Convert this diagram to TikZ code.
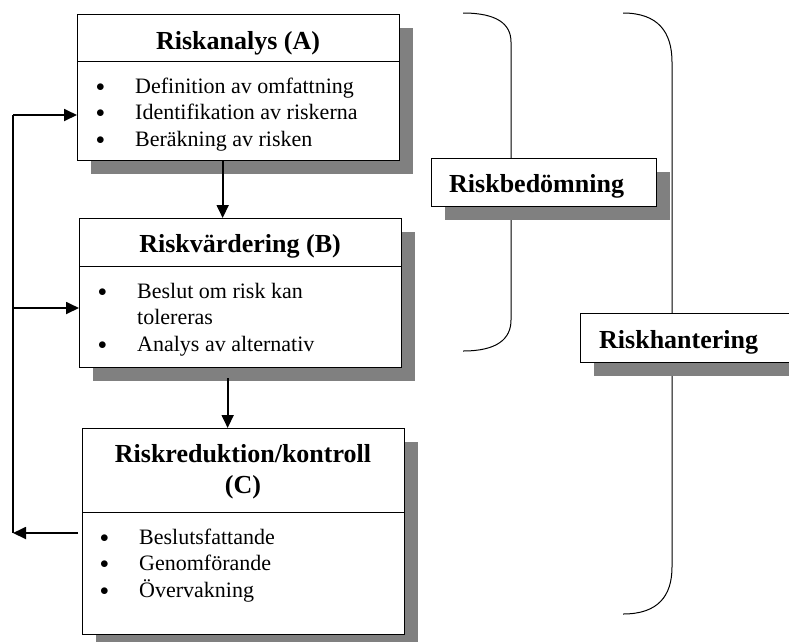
\documentclass[tikz,border=0pt]{standalone}
\usepackage{fontspec}
\setmainfont{Liberation Serif}
\usetikzlibrary{arrows.meta,shadows}

\newcommand\bul{\raisebox{1.6pt}{\fontsize{19}{26}\selectfont$\bullet$}}

\tikzset{
  box/.style={draw, line width=1.3pt, fill=white, inner sep=0pt, anchor=north west,
    drop shadow={shadow xshift=13pt, shadow yshift=-13pt, fill=black!50, opacity=1}},
  ttl/.style={font=\fontsize{26}{31}\selectfont\bfseries, inner sep=0pt},
  items/.style={font=\fontsize{22}{26.5}\selectfont, inner sep=0pt, anchor=base west},
  arr/.style={line width=1.8pt, -{Triangle[length=13pt,width=12pt]}},
  brace/.style={line width=1pt},
}

\begin{document}
\begin{tikzpicture}[x=1pt,y=-1pt]
\useasboundingbox (0,0) rectangle (789,641);

% brackets
\draw[brace] (463,13) .. controls (497,13) and (511,24) .. (511,42) -- (511,320)
  .. controls (511,339) and (497,351) .. (463,351);
\draw[brace] (623,13) .. controls (658,13) and (672,32) .. (672,62) -- (672,567)
  .. controls (672,596) and (658,614) .. (623,614);

% boxes
\node[box, minimum width=322pt, minimum height=47pt] (hA) at (77,14) {};
\node[box, minimum width=322pt, minimum height=99pt] (bA) at (77,61) {};
\node[box, minimum width=322pt, minimum height=48pt] (hB) at (79,218) {};
\node[box, minimum width=322pt, minimum height=101pt] (bB) at (79,266) {};
\node[box, minimum width=322pt, minimum height=84pt] (hC) at (82,428) {};
\node[box, minimum width=322pt, minimum height=122pt] (bC) at (82,512) {};
\node[box, minimum width=225pt, minimum height=48pt] (rb) at (431,158) {};
\node[box, minimum width=214pt, minimum height=49pt] (rh) at (580,313) {};

% texts
\node[ttl, anchor=base] (tA) at (238,49) {Riskanalys (A)};
\node[ttl, anchor=base] (tB) at (240,252) {Riskvärdering (B)};
\node[ttl, anchor=base] (tC) at (243,462)
  {\begin{tabular}[t]{@{}c@{}}Riskreduktion/kontroll\\(C)\end{tabular}};
\node[items] (iA) at (96,93) {\begin{tabular}[t]{@{}p{39pt}@{}l@{}}
  \bul & Definition av omfattning\\
  \bul & Identifikation av riskerna\\
  \bul & Beräkning av risken\end{tabular}};
\node[items] (iB) at (98,298) {\begin{tabular}[t]{@{}p{39pt}@{}l@{}}
  \bul & Beslut om risk kan\\
   & tolereras\\
  \bul & Analys av alternativ\end{tabular}};
\node[items] (iC) at (100,544) {\begin{tabular}[t]{@{}p{39pt}@{}l@{}}
  \bul & Beslutsfattande\\
  \bul & Genomförande\\
  \bul & Övervakning\end{tabular}};
\node[ttl, anchor=base west] (tb) at (449,192) {Riskbedömning};
\node[ttl, anchor=base west] (th) at (599,348) {Riskhantering};

% arrows
\coordinate (top) at (13,115);
\coordinate (mid) at (13,308);
\coordinate (bot) at (13,533);
\draw[line width=1.8pt] (top) -- (bot);
\draw[arr] (top) -- (bA.west |- top);
\draw[arr] (mid) -- (bB.west |- mid);
\draw[arr] ([xshift=-4pt]bC.west |- bot) -- (bot);
\draw[arr] ([xshift=-16pt]bA.south) -- ([xshift=-16pt]bA.south |- hB.north);
\draw[arr] ([xshift=-13pt,yshift=-10pt]bB.south) -- ([xshift=-13pt]bB.south |- hC.north);
\end{tikzpicture}
\end{document}
